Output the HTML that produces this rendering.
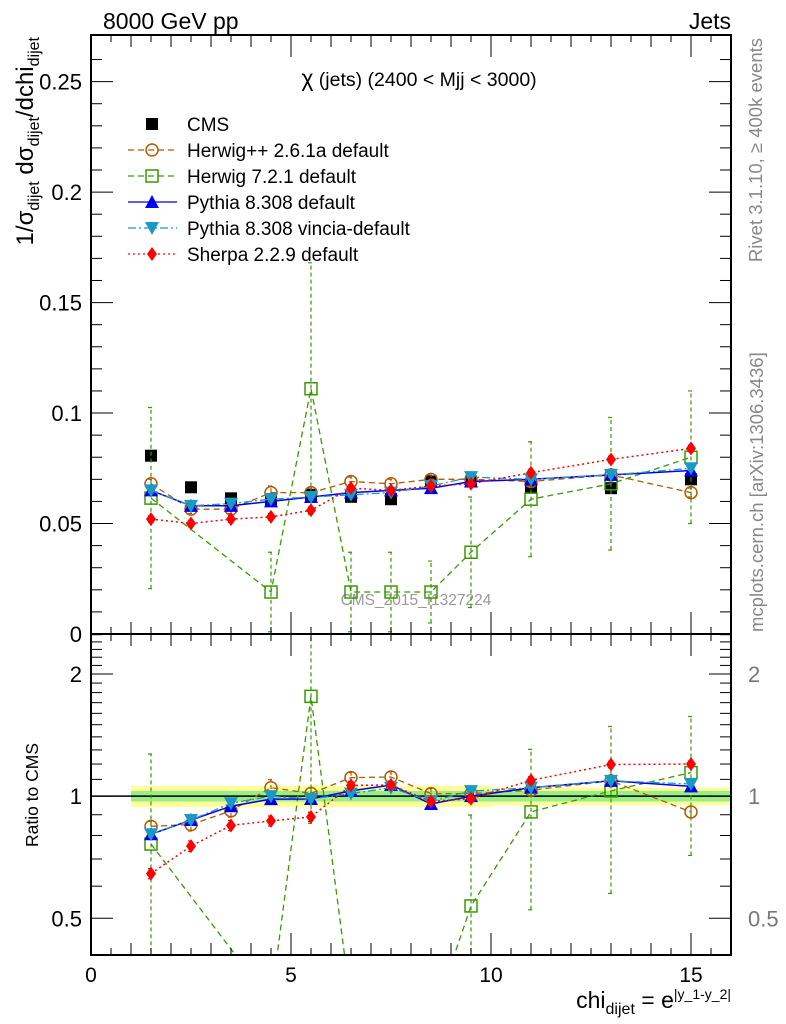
<!DOCTYPE html>
<html><head><meta charset="utf-8">
<style>
html,body{margin:0;padding:0;background:#fff;}
svg{display:block;font-family:"Liberation Sans",sans-serif;}
</style></head>
<body>
<svg id="chart" width="786" height="1024" viewBox="0 0 786 1024" xmlns="http://www.w3.org/2000/svg">
<text x="103" y="29" font-size="23">8000 GeV pp</text>
<text x="731" y="29" font-size="23" text-anchor="end">Jets</text>
<text x="419" y="86" font-size="19.5" text-anchor="middle"><tspan font-size="23">χ</tspan> (jets) (2400 &lt; Mjj &lt; 3000)</text>
<text transform="translate(762,38) rotate(-90)" font-size="18.5" fill="#888" text-anchor="end">Rivet 3.1.10, ≥ 400k events</text>
<text transform="translate(763,632) rotate(-90)" font-size="18.5" fill="#888">mcplots.cern.ch [arXiv:1306.3436]</text>
<text x="416" y="605" font-size="15.5" fill="#999" text-anchor="middle">CMS_2015_I1327224</text>
<text transform="translate(33,37) rotate(-90)" font-size="24" text-anchor="end">1/σ<tspan font-size="16" dy="6">dijet</tspan><tspan dy="-6"> dσ</tspan><tspan font-size="16" dy="6">dijet</tspan><tspan dy="-6">/dchi</tspan><tspan font-size="16" dy="6">dijet</tspan></text>
<text transform="translate(38,795) rotate(-90)" font-size="17.5" text-anchor="middle">Ratio to CMS</text>
<text x="731" y="1008" font-size="23" text-anchor="end">chi<tspan font-size="16" dy="6">dijet</tspan><tspan dy="-6"> = e</tspan><tspan font-size="14" dy="-9">|y_1-y_2|</tspan></text>
<g id="main"></g>
<g id="ratio"></g>
<g id="legend"></g>
</svg>
<script>
const xs = [1.5,2.5,3.5,4.5,5.5,6.5,7.5,8.5,9.5,11,13,15];
const xlo = [1,2,3,4,5,6,7,8,9,10,12,14];
const xhi = [2,3,4,5,6,7,8,9,10,12,14,16];
const cms = [0.0807,0.0664,0.0614,0.061,0.063,0.0621,0.061,0.069,0.069,0.0667,0.066,0.070];
const cmsStatRel = [0.03,0.03,0.03,0.03,0.03,0.03,0.03,0.03,0.03,0.03,0.03,0.03];
const cmsTotRel = [0.06,0.06,0.06,0.06,0.06,0.06,0.06,0.06,0.06,0.05,0.05,0.05];
const herwigpp = [0.068,0.0565,0.0565,0.064,0.064,0.069,0.068,0.070,0.070,0.069,0.072,0.064];
const herwigppErr = [0.002,0.002,0.002,0.003,0.002,0.002,0.002,0.002,0.002,0.002,0.002,0.002];
const herwig7 = [0.0615,null,null,0.019,0.111,0.019,0.019,0.019,0.037,0.061,0.068,0.080];
const herwig7Err = [0.041,0,0,0.018,0.057,0.018,0.018,0.014,0.025,0.026,0.030,0.030];
const pythia = [0.065,0.058,0.058,0.060,0.062,0.064,0.065,0.066,0.069,0.070,0.072,0.074];
const pythiaErr = [0.001,0.001,0.001,0.001,0.001,0.001,0.001,0.001,0.001,0.001,0.001,0.001];
const vincia = [0.065,0.058,0.059,0.061,0.062,0.063,0.064,0.067,0.071,0.070,0.072,0.075];
const vinciaErr = [0.001,0.001,0.001,0.001,0.001,0.001,0.001,0.001,0.001,0.001,0.001,0.001];
const sherpa = [0.052,0.050,0.052,0.053,0.056,0.066,0.065,0.067,0.068,0.073,0.079,0.084];
const sherpaErr = [0.0015,0.0015,0.0015,0.0015,0.0015,0.0015,0.0015,0.0015,0.0015,0.0015,0.0015,0.0015];
const xTicks = [0,5,10,15];
const yTicks = [0,0.05,0.1,0.15,0.2,0.25];
const yTickLabels = ["0","0.05","0.1","0.15","0.2","0.25"];
const rTicks = [0.5,1,2];
const rTickLabels = ["0.5","1","2"];

const NS="http://www.w3.org/2000/svg";
const L=91,R=731,MT=35,MB=634,RT=634,RB=955;
const X=v=>L+(v-0)/(16-0)*(R-L);
const Y=v=>MB-(v/0.2711)*(MB-MT);
const RLO=0.406,RHI=2.51;
const YR=v=>RB-(Math.log(v)-Math.log(RLO))/(Math.log(RHI)-Math.log(RLO))*(RB-RT);
function mk(tag,attrs,parent){const e=document.createElementNS(NS,tag);for(const k in attrs)e.setAttribute(k,attrs[k]);parent.appendChild(e);return e;}
const main=document.getElementById('main'), ratio=document.getElementById('ratio'), legend=document.getElementById('legend');
const svg=document.getElementById('chart');
let defs=mk('defs',{},svg);
let c1=mk('clipPath',{id:'cm'},defs);mk('rect',{x:L,y:MT,width:R-L,height:MB-MT},c1);
let c2=mk('clipPath',{id:'cr'},defs);mk('rect',{x:L,y:RT,width:R-L,height:RB-RT},c2);
main.setAttribute('clip-path','url(#cm)');
ratio.setAttribute('clip-path','url(#cr)');

xs.forEach((x,i)=>{
  let b=mk('rect',{x:X(xlo[i]),y:YR(1+cmsTotRel[i]),width:X(xhi[i])-X(xlo[i]),height:YR(1-cmsTotRel[i])-YR(1+cmsTotRel[i]),fill:'#ffff99'},ratio);
  
  
  let g=mk('rect',{x:X(xlo[i]),y:YR(1+cmsStatRel[i]),width:X(xhi[i])-X(xlo[i]),height:YR(1-cmsStatRel[i])-YR(1+cmsStatRel[i]),fill:'#99ee88'},ratio);
  
  
});
let one=mk('line',{x1:L,x2:R,y1:YR(1),y2:YR(1),stroke:'#000','stroke-width':1.5},ratio);



function marker(kind,cx,cy,color,parent){
  let e;
  if(kind==='sq') e=mk('rect',{x:cx-6,y:cy-6,width:12,height:12,fill:color},parent);
  else if(kind==='osq') e=mk('rect',{x:cx-6,y:cy-6,width:12,height:12,fill:'#fff','fill-opacity':0,stroke:color,'stroke-width':1.5},parent);
  else if(kind==='oc') e=mk('circle',{cx:cx,cy:cy,r:6,fill:'none',stroke:color,'stroke-width':1.5},parent);
  else if(kind==='tu') e=mk('polygon',{points:`${cx-7},${cy+6} ${cx+7},${cy+6} ${cx},${cy-7}`,fill:color},parent);
  else if(kind==='td') e=mk('polygon',{points:`${cx-7},${cy-6} ${cx+7},${cy-6} ${cx},${cy+7}`,fill:color},parent);
  else if(kind==='di') e=mk('polygon',{points:`${cx},${cy-7} ${cx+5},${cy} ${cx},${cy+7} ${cx-5},${cy}`,fill:color},parent);
  return e;
}
const series=[
 {name:'herwigpp',label:'Herwig++ 2.6.1a default',v:herwigpp,e:herwigppErr,color:'#b35a00',dash:'6,4',m:'oc',w:1.3},
 {name:'herwig7',label:'Herwig 7.2.1 default',v:herwig7,e:herwig7Err,color:'#3a9a00',dash:'6,4',m:'osq',w:1.3},
 {name:'pythia',label:'Pythia 8.308 default',v:pythia,e:pythiaErr,color:'#0000ee',dash:'',m:'tu',w:1.5},
 {name:'vincia',label:'Pythia 8.308 vincia-default',v:vincia,e:vinciaErr,color:'#1a99c4',dash:'8,3,2,3',m:'td',w:1.3},
 {name:'sherpa',label:'Sherpa 2.2.9 default',v:sherpa,e:sherpaErr,color:'#ff0000',dash:'2,3',m:'di',w:1.5},
];
function drawSeries(s,parent,yf,ratioMode){
  const pts=[];
  xs.forEach((x,i)=>{ if(s.v[i]==null) return; const val=ratioMode? s.v[i]/cms[i]:s.v[i]; const err=ratioMode? s.e[i]/cms[i]:s.e[i]; pts.push([x,val,err]);});
  const d=pts.map((p,j)=>(j?'L':'M')+X(p[0]).toFixed(1)+','+yf(p[1]).toFixed(1)).join(' ');
  let pl=mk('path',{d:d,fill:'none',stroke:s.color,'stroke-width':s.w,'stroke-dasharray':s.dash},parent);
  
  
  pts.forEach(p=>{
    if(ratioMode && p[1]<RLO) return;
    const lo=Math.max(p[1]-p[2],ratioMode?0.3:-0.01), hi=p[1]+p[2];
    let eb=mk('path',{d:`M${X(p[0])},${yf(lo)} L${X(p[0])},${yf(hi)} M${X(p[0])-3},${yf(lo)} L${X(p[0])+3},${yf(lo)} M${X(p[0])-3},${yf(hi)} L${X(p[0])+3},${yf(hi)}`,stroke:s.color,'stroke-width':1.2,'stroke-dasharray':s.dash?'4,3':'',fill:'none'},parent);
    
    
    let m=marker(s.m,X(p[0]),yf(p[1]),s.color,parent);
    
    
  });
}
xs.forEach((x,i)=>{
  let m=marker('sq',X(x),Y(cms[i]),'#000',main);
  
  
});
series.forEach(s=>{drawSeries(s,main,Y,false);drawSeries(s,ratio,YR,true);});

const axes=mk('g',{},svg);


mk('rect',{x:L,y:MT,width:R-L,height:MB-MT,fill:'none',stroke:'#000','stroke-width':2},axes);
mk('rect',{x:L,y:RT,width:R-L,height:RB-RT,fill:'none',stroke:'#000','stroke-width':2},axes);
for(let v=0;v<=16.001;v+=0.5){
  const major=Math.abs(v-Math.round(v/5)*5)<1e-6, mid=Math.abs(v-Math.round(v))<1e-6;
  const len=major?22:(mid?12:7);
  [[MB,-1],[MT,1],[RB,-1],[RT,1]].forEach(([y0,dir])=>{
    mk('line',{x1:X(v),x2:X(v),y1:y0,y2:y0+dir*len,stroke:'#000','stroke-width':1},axes);
  });
}
xTicks.forEach(v=>{let t=mk('text',{x:X(v),y:982,'font-size':21,'text-anchor':'middle'},axes);t.textContent=v;});
for(let v=0;v<=0.27;v+=0.01){
  const major=Math.abs(v/0.05-Math.round(v/0.05))<1e-6;const len=major?22:11;
  mk('line',{x1:L,x2:L+len,y1:Y(v),y2:Y(v),stroke:'#000'},axes);
  mk('line',{x1:R,x2:R-len,y1:Y(v),y2:Y(v),stroke:'#000'},axes);
}
yTicks.forEach((v,i)=>{let t=mk('text',{x:82,y:Y(v)+8,'font-size':22,'text-anchor':'end'},axes);t.textContent=yTickLabels[i];});
for(let k=4;k<=25;k++){
  const v=k/10;const major=(k===5||k===10||k===20);const len=major?22:11;
  if(v<RLO||v>RHI) continue;
  mk('line',{x1:L,x2:L+len,y1:YR(v),y2:YR(v),stroke:'#000'},axes);
  mk('line',{x1:R,x2:R-len,y1:YR(v),y2:YR(v),stroke:'#000'},axes);
}
rTicks.forEach((v,i)=>{
  let t=mk('text',{x:82,y:YR(v)+8,'font-size':22,'text-anchor':'end'},axes);t.textContent=rTickLabels[i];
  let t2=mk('text',{x:748,y:YR(v)+8,'font-size':22,fill:'#777'},axes);t2.textContent=rTickLabels[i];
});

const ly0=124, ldy=26;
let e0=mk('g',{},legend);


marker('sq',152,ly0,'#000',e0);
let tt=mk('text',{x:187,y:ly0+7,'font-size':19},e0);tt.textContent='CMS';
series.forEach((s,i)=>{
  const y=ly0+(i+1)*ldy;
  let g=mk('g',{},legend);
  
  
  mk('line',{x1:128,x2:177,y1:y,y2:y,stroke:s.color,'stroke-width':1.3,'stroke-dasharray':s.dash},g);
  marker(s.m,152,y,s.color,g);
  let t=mk('text',{x:187,y:y+7,'font-size':19},g);t.textContent=s.label;
});
</script>
</body></html>
